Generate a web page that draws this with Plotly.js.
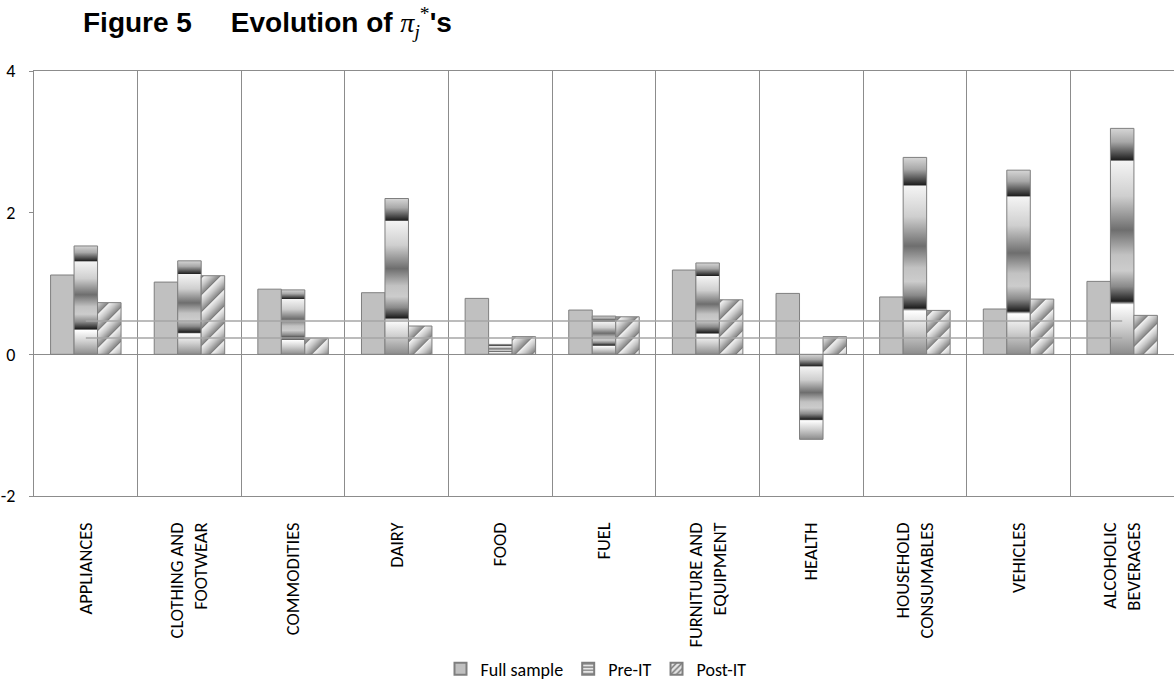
<!DOCTYPE html>
<html>
<head>
<meta charset="utf-8">
<script src="https://cdn.plot.ly/plotly-3.0.1.min.js"></script>
<style>
  html, body { margin: 0; padding: 0; background: #ffffff; }
  #chart { width: 1174px; height: 683px; }
</style>
</head>
<body>
<div id="chart"></div>
<script>
// ---- Data ----
const categories = ['APPLIANCES', 'CLOTHING AND FOOTWEAR', 'COMMODITIES', 'DAIRY', 'FOOD', 'FUEL',
  'FURNITURE AND EQUIPMENT', 'HEALTH', 'HOUSEHOLD CONSUMABLES', 'VEHICLES', 'ALCOHOLIC BEVERAGES'];
const tickLabels = ['APPLIANCES', 'CLOTHING AND<br>FOOTWEAR', 'COMMODITIES', 'DAIRY', 'FOOD', 'FUEL',
  'FURNITURE AND<br>EQUIPMENT', 'HEALTH', 'HOUSEHOLD<br>CONSUMABLES', 'VEHICLES', 'ALCOHOLIC<br>BEVERAGES'];
const fullSample = [1.12, 1.02, 0.92, 0.87, 0.79, 0.625, 1.19, 0.86, 0.81, 0.64, 1.03];
const preIT      = [1.53, 1.32, 0.91, 2.20, 0.14, 0.54, 1.29, -1.20, 2.78, 2.60, 3.19];
const postIT     = [0.73, 1.11, 0.23, 0.40, 0.25, 0.53, 0.77, 0.25, 0.62, 0.78, 0.55];
const upperLine  = [0.47, 0.47, 0.47, 0.47, 0.47, 0.47, 0.47, 0.47, 0.47, 0.47, 0.47];
const lowerLine  = [0.23, 0.23, 0.23, 0.23, 0.23, 0.23, 0.23, 0.23, 0.23, 0.23, 0.23];
const seriesNames = ['Full sample', 'Pre-IT', 'Post-IT'];
const yTicks = [-2, 0, 2, 4];

const lblFont = 'Carlito, Calibri, Lato, sans-serif';
const outline = { color: '#7f7f7f', width: 1 };

const traces = [
  { type: 'bar', name: seriesNames[0], x: categories, y: fullSample,
    marker: { color: '#c0c0c0', line: outline } },
  { type: 'bar', name: seriesNames[1], x: categories, y: preIT,
    marker: { color: '#d9d9d9', line: outline,
      pattern: { shape: '-', bgcolor: '#e6e6e6', fgcolor: '#707070', size: 4, solidity: 0.35 } } },
  { type: 'bar', name: seriesNames[2], x: categories, y: postIT,
    marker: { color: '#d9d9d9', line: outline,
      pattern: { shape: '/', bgcolor: '#e6e6e6', fgcolor: '#707070', size: 5, solidity: 0.35 } } },
  { type: 'scatter', mode: 'lines', x: categories, y: upperLine, showlegend: false,
    line: { color: '#a6a6a6', width: 1.5 }, hoverinfo: 'skip' },
  { type: 'scatter', mode: 'lines', x: categories, y: lowerLine, showlegend: false,
    line: { color: '#a6a6a6', width: 1.5 }, hoverinfo: 'skip' }
];

const layout = {
  width: 1174, height: 683,
  margin: { l: 34, r: 0, t: 71, b: 187, autoexpand: false },
  paper_bgcolor: '#ffffff', plot_bgcolor: '#ffffff',
  font: { family: lblFont, size: 16, color: '#000000' },
  title: {
    text: 'Figure 5\u00a0\u00a0\u00a0\u00a0\u00a0Evolution of <span style="font-family:\'Liberation Serif\',serif;font-weight:normal"><i>π</i><sub><i>j</i></sub><sup>*</sup></span>\'s',
    font: { family: '"Liberation Sans", Arial, sans-serif', size: 28, color: '#000000', weight: 'bold' },
    xref: 'container', x: 83 / 1174, xanchor: 'left',
    yref: 'container', y: 1 - 22 / 683, yanchor: 'middle', automargin: false
  },
  barmode: 'group', bargap: 0.32, bargroupgap: 0,
  showlegend: true,
  legend: {
    orientation: 'h', xref: 'paper', x: (596 - 34) / 1140, xanchor: 'center',
    yref: 'paper', y: (496 - 669) / 425, yanchor: 'middle',
    font: { family: lblFont, size: 18, color: '#000000' },
    itemsizing: 'constant', traceorder: 'normal'
  },
  xaxis: {
    type: 'category', automargin: false,
    tickvals: categories, ticktext: tickLabels,
    tickangle: -90, tickfont: { family: lblFont, size: 18.5, color: '#000000' },
    ticks: '', ticklabelstandoff: 18,
    showgrid: true, gridcolor: '#8c8c8c', gridwidth: 1, tickson: 'boundaries',
    showline: true, linecolor: '#8c8c8c', linewidth: 1, mirror: true,
    zeroline: false, fixedrange: true
  },
  yaxis: {
    range: [-2, 4], tickvals: yTicks, ticktext: yTicks.map(String), automargin: false,
    ticks: 'outside', ticklen: 4, tickcolor: '#8c8c8c', ticklabelstandoff: 10,
    tickfont: { family: lblFont, size: 18, color: '#000000' },
    showgrid: false, zeroline: true, zerolinecolor: '#8c8c8c', zerolinewidth: 1.5,
    showline: true, linecolor: '#8c8c8c', linewidth: 1, mirror: true, fixedrange: true
  }
};

function addGradients(gd) {
  const NS = 'http://www.w3.org/2000/svg';
  const svg = gd.querySelector('svg.main-svg');
  if (!svg) return;
  let defs = svg.querySelector('defs');
  if (!defs) { defs = document.createElementNS(NS, 'defs'); svg.insertBefore(defs, svg.firstChild); }
  function grad(id, attrs, stops) {
    const g = document.createElementNS(NS, 'linearGradient');
    g.setAttribute('id', id);
    Object.keys(attrs).forEach(k => g.setAttribute(k, attrs[k]));
    stops.forEach(s => {
      const st = document.createElementNS(NS, 'stop');
      st.setAttribute('offset', s[0]);
      st.setAttribute('stop-color', s[1]);
      g.appendChild(st);
    });
    defs.appendChild(g);
  }
  grad('gradPre', { x1: 0, y1: 0, x2: 0, y2: 1 }, [
    [0, '#d6d6d6'], [0.06, '#a8a8a8'], [0.14, '#1e1e1e'], [0.145, '#f4f4f4'],
    [0.30, '#cfcfcf'], [0.45, '#6e6e6e'], [0.56, '#c2c2c2'], [0.63, '#cccccc'],
    [0.70, '#8a8a8a'], [0.765, '#1e1e1e'], [0.78, '#ffffff'], [0.88, '#d0d0d0'], [1, '#8c8c8c']
  ]);
  grad('gradPostStripe', { x1: 0, y1: 0, x2: 1, y2: 0 }, [
    [0, '#2a2a2a'], [0.1, '#f2f2f2'], [0.55, '#c6c6c6'], [1, '#8a8a8a']
  ]);
  const pat = document.createElementNS(NS, 'pattern');
  pat.setAttribute('id', 'patPost');
  pat.setAttribute('patternUnits', 'userSpaceOnUse');
  pat.setAttribute('width', 12); pat.setAttribute('height', 12);
  pat.setAttribute('patternTransform', 'rotate(45)');
  const r = document.createElementNS(NS, 'rect');
  r.setAttribute('width', 12); r.setAttribute('height', 12);
  r.setAttribute('fill', 'url(#gradPostStripe)');
  pat.appendChild(r);
  defs.appendChild(pat);

  const barTraces = gd.querySelectorAll('.barlayer .trace.bars');
  const fills = [null, 'url(#gradPre)', 'url(#patPost)'];
  barTraces.forEach((t, i) => {
    if (!fills[i]) return;
    t.querySelectorAll('.point path').forEach(p => {
      p.style.fill = fills[i];
      p.style.fillOpacity = 1;
    });
  });
}

Plotly.newPlot('chart', traces, layout, { displayModeBar: false, staticPlot: true })
  .then(addGradients);
</script>
</body>
</html>
